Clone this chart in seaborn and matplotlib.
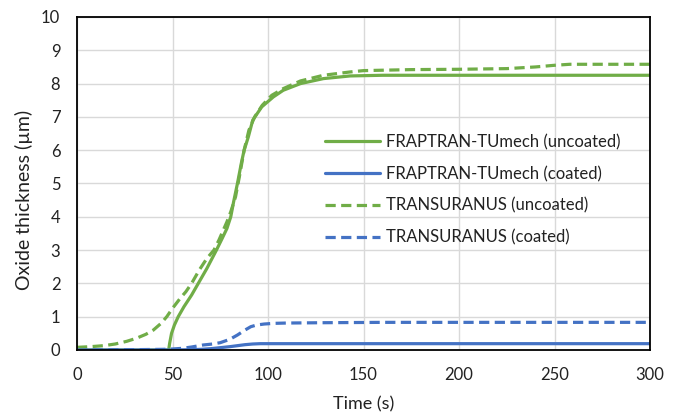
import matplotlib
matplotlib.use("Agg")
import matplotlib.pyplot as plt
import seaborn as sns
import pandas as pd

# FRAPTRAN-TUmech, uncoated cladding
t_fr_unc = [0, 48, 48.5, 49.5, 51, 53, 56, 60, 63.5, 68, 73, 76, 78.5, 80.5, 82, 84, 86, 87.5,
            89.7, 92, 96.7, 102.8, 108, 117, 129, 143, 160, 300]
v_fr_unc = [0, 0, 0.2, 0.5, 0.75, 1.0, 1.3, 1.65, 2.0, 2.45, 3.0, 3.35, 3.65, 4.0, 4.45, 5.0,
            5.6, 6.0, 6.4, 6.9, 7.3, 7.6, 7.8, 8.0, 8.15, 8.23, 8.25, 8.25]

# FRAPTRAN-TUmech, coated cladding
t_fr_coa = [0, 50, 60, 65, 70, 75, 80, 84, 88, 92, 96, 100, 110, 300]
v_fr_coa = [0, 0, 0.01, 0.02, 0.04, 0.07, 0.1, 0.13, 0.16, 0.18, 0.19, 0.19, 0.19, 0.19]

# TRANSURANUS, uncoated cladding
t_tu_unc = [0, 7, 14, 20, 26, 31, 36, 40, 44, 47, 50, 54, 57, 60, 64, 68, 71.7, 74.3, 76.6, 78.5,
            80.5, 83, 85, 87.5, 90, 93, 97, 102, 108, 117, 129, 143, 150, 175, 200, 225, 240,
            250, 258, 270, 300]
v_tu_unc = [0.08, 0.1, 0.13, 0.18, 0.26, 0.35, 0.47, 0.6, 0.8, 1.0, 1.25, 1.55, 1.75, 2.0, 2.4,
            2.75, 3.0, 3.3, 3.6, 3.85, 4.15, 4.6, 5.2, 6.0, 6.6, 7.0, 7.35, 7.65, 7.85, 8.08,
            8.25, 8.35, 8.39, 8.42, 8.43, 8.45, 8.5, 8.55, 8.58, 8.58, 8.58]

# TRANSURANUS, coated cladding
t_tu_coa = [0, 30, 45, 50, 55, 60, 66, 71, 75, 80, 84, 88, 91, 94, 98, 103, 110, 130, 160, 300]
v_tu_coa = [0, 0.01, 0.02, 0.03, 0.05, 0.09, 0.15, 0.18, 0.22, 0.32, 0.45, 0.6, 0.7, 0.75,
            0.78, 0.8, 0.81, 0.82, 0.83, 0.83]

labels = ["FRAPTRAN-TUmech (uncoated)", "FRAPTRAN-TUmech (coated)",
          "TRANSURANUS (uncoated)", "TRANSURANUS (coated)"]
x_ticks = [0, 50, 100, 150, 200, 250, 300]
y_ticks = list(range(0, 11))

GREEN = "#70AD47"
BLUE = "#4472C4"
DASH = (0, (3.2, 1.7))

sns.set_theme(style="white")
plt.rcParams["font.family"] = ["Lato", "DejaVu Sans"]

fig = plt.figure(figsize=(6.78, 4.18), dpi=100)
ax = fig.add_axes([77 / 678, 68 / 418, 573 / 678, 333 / 418])

series = [
    (t_fr_unc, v_fr_unc, labels[0], GREEN, "-"),
    (t_fr_coa, v_fr_coa, labels[1], BLUE, "-"),
    (t_tu_unc, v_tu_unc, labels[2], GREEN, DASH),
    (t_tu_coa, v_tu_coa, labels[3], BLUE, DASH),
]
for t, v, lab, col, ls in series:
    df = pd.DataFrame({"Time (s)": t, "Oxide": v})
    sns.lineplot(data=df, x="Time (s)", y="Oxide", ax=ax, color=col, linewidth=2.3,
                 linestyle=ls, label=lab, sort=False)

ax.set_xlim(0, 300)
ax.set_ylim(0, 10)
ax.set_xticks(x_ticks)
ax.set_yticks(y_ticks)
ax.grid(True, color="#d9d9d9", linewidth=1.0)
ax.set_axisbelow(True)
for s in ax.spines.values():
    s.set_color("black")
    s.set_linewidth(1.3)
ax.tick_params(axis="both", length=0, labelsize=12, colors="#222222")
ax.tick_params(axis="y", pad=12)
ax.tick_params(axis="x", pad=12)
ax.set_xlabel("Time (s)", fontsize=13, color="#222222")
ax.set_ylabel("Oxide thickness (\u00b5m)", fontsize=14, color="#222222")
ax.xaxis.set_label_coords(0.5, -0.138)
ax.yaxis.set_label_coords(-0.077, 0.45)

leg = ax.legend(loc="upper left", bbox_to_anchor=(0.4215, 0.669), frameon=False,
                fontsize=12, handlelength=3.3, handletextpad=0.36, labelspacing=0.95,
                borderaxespad=0)
for txt in leg.get_texts():
    txt.set_color("#222222")

fig.savefig("out.png", dpi=100)
